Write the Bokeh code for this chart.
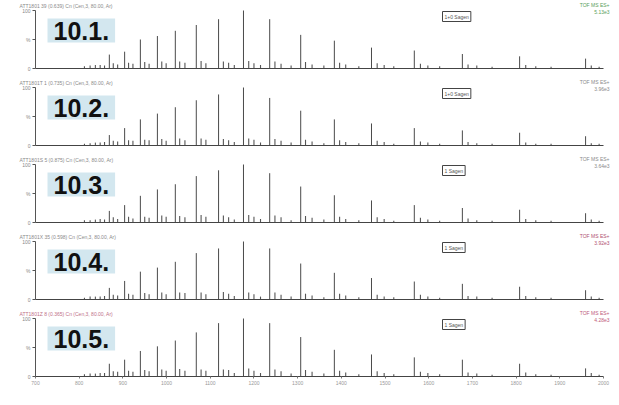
from bokeh.plotting import figure
from bokeh.models import Range1d, FixedTicker, Label, ColumnDataSource
from bokeh.layouts import column
from bokeh.embed import file_html
from bokeh.resources import INLINE

# ---- data ----
x_ticks = [700, 800, 900, 1000, 1100, 1200, 1300, 1400, 1500, 1600, 1700, 1800, 1900, 2000]
y_ticks = [0, 50, 100]
y_tick_text = {0: "0", 50: "%", 100: "100"}

panel_names = ["10.1.", "10.2.", "10.3.", "10.4.", "10.5."]
header_left = [
    "ATT1801 39 (0.639) Cn (Cen,3, 80.00, Ar)",
    "ATT1801T 1 (0.735) Cn (Cen,3, 80.00, Ar)",
    "ATT1801S 5 (0.875) Cn (Cen,3, 80.00, Ar)",
    "ATT1801X 35 (0.598) Cn (Cen,3, 80.00, Ar)",
    "ATT1801Z 8 (0.365) Cn (Cen,3, 80.00, Ar)",
]
header_right = ["TOF MS ES+", "TOF MS ES+", "TOF MS ES+", "TOF MS ES+", "TOF MS ES+"]
header_scale = ["5.13e3", "3.96e3", "3.64e3", "3.92e3", "4.28e3"]
legend_text = ["1+0 Sagen", "1+0 Sagen", "1 Sagen", "1 Sagen", "1 Sagen"]
header_colors = ["#5aa05a", "#8a8a8a", "#8a8a8a", "#b05070", "#c05a7a"]
left_colors = ["#8a8a8a", "#8a8a8a", "#8a8a8a", "#8a8a8a", "#c07088"]

mz_major = [837, 869, 904, 940, 979, 1020, 1068, 1119, 1176, 1236,
            1307, 1384, 1469, 1567, 1677, 1808, 1959]
int_major = [
    [6, 24, 29, 50, 56, 65, 75, 85, 100, 85, 58, 48, 36, 31, 25, 21, 17],
    [5, 18, 30, 45, 55, 66, 78, 88, 100, 82, 60, 45, 38, 30, 26, 22, 16],
    [5, 20, 30, 46, 57, 66, 80, 90, 100, 85, 62, 47, 38, 30, 25, 22, 16],
    [5, 20, 32, 48, 55, 65, 80, 88, 100, 88, 62, 46, 37, 31, 27, 22, 16],
    [5, 22, 29, 44, 52, 62, 76, 92, 100, 92, 68, 46, 38, 33, 29, 22, 14],
]

mz_minor = [812, 825, 848, 858, 878, 888, 913, 923, 950, 960, 989, 999,
            1030, 1042, 1079, 1090, 1130, 1142, 1155, 1188, 1200, 1215,
            1248, 1262, 1285, 1318, 1333, 1360, 1396, 1410, 1440, 1482,
            1498, 1520, 1581, 1598, 1625, 1690, 1710, 1745, 1822, 1845,
            1880, 1972, 1990]
int_minor = [
    [4, 5, 6, 5, 9, 7, 10, 8, 11, 8, 12, 9, 12, 10, 13, 9, 12, 10, 6, 13, 9, 6,
     12, 8, 5, 11, 7, 5, 10, 7, 4, 9, 6, 4, 8, 5, 4, 7, 5, 3, 6, 4, 3, 5, 3],
    [3, 4, 5, 6, 8, 7, 9, 8, 10, 9, 11, 8, 12, 9, 12, 10, 11, 9, 6, 12, 10, 5,
     11, 8, 5, 10, 7, 4, 9, 6, 4, 8, 6, 3, 7, 5, 3, 6, 4, 3, 5, 3, 3, 4, 3],
    [4, 4, 6, 5, 9, 6, 10, 7, 10, 8, 12, 10, 11, 9, 13, 10, 12, 9, 5, 13, 10, 6,
     12, 9, 4, 11, 8, 5, 10, 6, 4, 9, 6, 3, 8, 5, 3, 7, 4, 3, 6, 4, 3, 5, 3],
    [3, 5, 5, 6, 8, 7, 10, 8, 11, 9, 12, 9, 12, 11, 12, 9, 13, 10, 6, 12, 9, 5,
     12, 8, 5, 10, 7, 4, 10, 7, 4, 8, 5, 4, 8, 5, 3, 6, 5, 3, 6, 4, 3, 5, 3],
    [4, 5, 6, 6, 9, 8, 10, 8, 11, 9, 12, 10, 13, 10, 12, 10, 12, 11, 6, 14, 10, 6,
     12, 9, 5, 11, 8, 5, 10, 7, 4, 9, 6, 4, 8, 6, 4, 7, 5, 3, 7, 4, 3, 6, 3],
]

FONT = "Liberation Sans"
W = 611
AX_L, AX_R = 35, 603          # pixel positions of first/last x tick inside figure
TOP = 10                       # pixels above 100 %
FRAME_H = 58                   # pixels from 0 % to 100 %

x0, x1 = x_ticks[0], x_ticks[-1]
mz_per_px = (x1 - x0) / (AX_R - AX_L)
xr = (x0 - AX_L * mz_per_px, x1 + (W - AX_R) * mz_per_px)

plots = []
for i in range(5):
    last = (i == 4)
    bottom = 12 if last else 9
    h = TOP + FRAME_H + bottom
    pct_per_px = 100.0 / FRAME_H
    yr = (-bottom * pct_per_px, 100 + TOP * pct_per_px)
    p = figure(width=W, height=h, output_backend="svg", toolbar_location=None,
               x_range=Range1d(*xr), y_range=Range1d(*yr),
               min_border_left=0, min_border_right=0, min_border_top=0,
               min_border_bottom=0)
    p.outline_line_color = None
    p.background_fill_color = "white"
    p.border_fill_color = "white"
    p.grid.visible = False

    src_minor = ColumnDataSource(dict(x=mz_minor, y=int_minor[i]))
    src_major = ColumnDataSource(dict(x=mz_major, y=int_major[i]))
    p.segment(x0="x", y0=0, x1="x", y1="y", source=src_minor,
              line_color="#555555", line_width=1.1)
    p.segment(x0="x", y0=0, x1="x", y1="y", source=src_major,
              line_color="#4a4a4a", line_width=1.0)

    ya = p.yaxis[0]
    ya.fixed_location = x0
    ya.bounds = (0, 100)
    ya.ticker = FixedTicker(ticks=y_ticks)
    ya.major_label_overrides = y_tick_text
    ya.major_label_text_font_size = "5px"
    ya.major_label_text_color = "#888888"
    ya.major_label_text_font = FONT
    ya.axis_line_color = "#555555"
    ya.major_tick_line_color = "#555555"
    ya.major_tick_out = 3
    ya.major_tick_in = 0
    ya.minor_tick_line_color = None
    ya.major_label_standoff = 2

    xa = p.xaxis[0]
    xa.fixed_location = 0
    xa.bounds = (x0, x1)
    xa.axis_line_color = "#444444"
    xa.axis_line_width = 1.2
    xa.minor_tick_line_color = None
    xa.major_label_text_font = FONT
    if last:
        xa.ticker = FixedTicker(ticks=x_ticks)
        xa.major_label_text_font_size = "5px"
        xa.major_label_text_color = "#999999"
        xa.major_tick_line_color = "#777777"
        xa.major_tick_out = 2
        xa.major_tick_in = 0
        xa.major_label_standoff = 2
    else:
        xa.ticker = FixedTicker(ticks=[])
        xa.major_tick_line_color = None

    # header texts (screen units: from frame bottom-left, y upward)
    p.add_layout(Label(x=19, y=h - 8, x_units="screen", y_units="screen",
                       text=header_left[i], text_font=FONT, text_font_size="5px",
                       text_color=left_colors[i],
                       text_baseline="bottom", text_align="left"))
    p.add_layout(Label(x=W - 2, y=h - 7, x_units="screen", y_units="screen",
                       text=header_right[i], text_font=FONT, text_font_size="5px",
                       text_color=header_colors[i],
                       text_baseline="bottom", text_align="right"))
    p.add_layout(Label(x=W - 2, y=h - 13, x_units="screen", y_units="screen",
                       text=header_scale[i], text_font=FONT, text_font_size="5px",
                       text_color=header_colors[i],
                       text_baseline="bottom", text_align="right"))
    # small legend box
    p.add_layout(Label(x=442, y=h - 11, x_units="screen", y_units="screen",
                       text=legend_text[i], text_font=FONT, text_font_size="5px",
                       text_color="#555555", text_baseline="top", text_align="left",
                       border_line_color="#444444", border_line_width=1,
                       background_fill_color="white", padding=2))
    # panel name box
    p.add_layout(Label(x=47, y=h - TOP - 8, x_units="screen", y_units="screen",
                       text=panel_names[i], text_font=FONT, text_font_size="25px",
                       text_font_style="bold", text_color="#111111",
                       text_baseline="top", text_align="left",
                       background_fill_color="#d3e7ef", padding=(6, 3)))
    plots.append(p)

layout = column(*plots, spacing=0)
open("out.html", "w").write(file_html(layout, INLINE))
